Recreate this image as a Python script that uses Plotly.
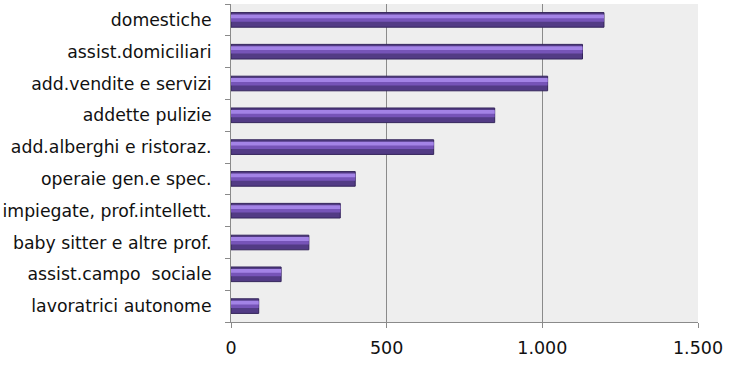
import plotly.graph_objects as go

categories = ["domestiche", "assist.domiciliari", "add.vendite e servizi", "addette pulizie",
              "add.alberghi e ristoraz.", "operaie gen.e spec.", "impiegate, prof.intellett.",
              "baby sitter e altre prof.", "assist.campo  sociale", "lavoratrici autonome"]
values = [1198, 1129, 1017, 847, 651, 399, 351, 250, 161, 89]
tick_vals = [0, 500, 1000, 1500]
tick_text = ["0", "500", "1.000", "1.500"]

cats = categories[::-1]
vals = values[::-1]

fig = go.Figure()
fig.add_trace(go.Bar(
    y=cats, x=vals, orientation="h", width=0.46,
    marker=dict(color="#523B85", line=dict(color="#33245A", width=1)),
    hoverinfo="x+y", showlegend=False,
))
fig.add_trace(go.Bar(
    y=cats, x=vals, orientation="h", width=0.2, offset=-0.06,
    marker=dict(color="#7654B8", line=dict(width=0)),
    hoverinfo="skip", showlegend=False,
))
fig.add_trace(go.Bar(
    y=cats, x=vals, orientation="h", width=0.12, offset=0.05,
    marker=dict(color="#A383E6", line=dict(width=0)),
    hoverinfo="skip", showlegend=False,
))
fig.update_layout(
    width=732, height=369,
    barmode="overlay",
    paper_bgcolor="white", plot_bgcolor="#EEEEEE",
    margin=dict(l=231, r=34, t=4, b=47),
    font=dict(family="DejaVu Sans", size=17.3, color="#111111"),
    xaxis=dict(range=[0, 1500], tickvals=tick_vals, ticktext=tick_text,
               showgrid=True, gridcolor="#8A8A8A", gridwidth=1,
               showline=True, linecolor="#8A8A8A", mirror=False,
               ticks="outside", ticklen=5, tickcolor="#8A8A8A",
               tickfont=dict(size=17.5), zeroline=False, fixedrange=True,
               automargin=False, ticklabelstandoff=5),
    yaxis=dict(showgrid=False, showline=True, linecolor="#8A8A8A",
               ticks="outside", ticklen=5, tickcolor="#8A8A8A", tickson="boundaries",
               tickfont=dict(size=17.3), fixedrange=True, ticklabelstandoff=15,
               automargin=False),
)
fig.write_html("out.html", config={"displayModeBar": False},
               post_script="document.body.style.margin='0px';")
